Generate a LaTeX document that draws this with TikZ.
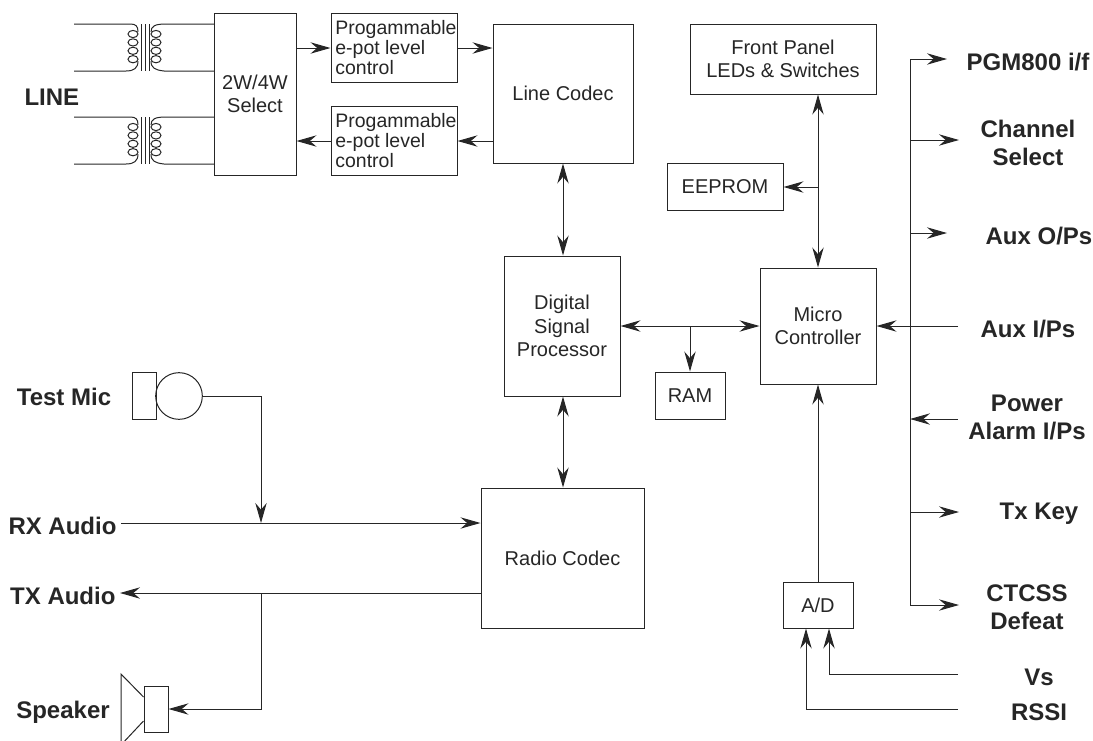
\documentclass[tikz,border=0pt]{standalone}
\usepackage{fontspec}
\setmainfont{Liberation Sans}
\usetikzlibrary{arrows.meta,calc}
\tikzset{
  x=0.75pt,y=-0.75pt,
  every path/.style={line width=0.75pt},
  box/.style={draw,rectangle,inner sep=0pt,align=center,font=\fontsize{15}{17.6}\selectfont},
  progbox/.style={box,align=left,font=\fontsize{14.6}{15}\selectfont},
  lab/.style={inner sep=0pt,align=center,font=\bfseries\fontsize{18}{21}\selectfont},
  arr/.style={-{Stealth[length=15pt,width=8.5pt,inset=5pt]}},
  darr/.style={{Stealth[length=15pt,width=8.5pt,inset=5pt]}-{Stealth[length=15pt,width=8.5pt,inset=5pt]}},
  thinln/.style={line width=0.75pt},
  pics/xfmr/.style={code={
    \foreach \yy in {10,18.4,26.8,35.2}{
      \draw[thinln] (59,\yy) ellipse [x radius=5,y radius=3.6];
      \draw[thinln] (82,\yy) ellipse [x radius=5,y radius=3.6];
    }
    \draw[thinln] (0,0) -- (56,0) .. controls (62,0) and (64,2) .. (64,8);
    \draw[thinln] (0,47) -- (52,47) .. controls (60,47) and (64,44) .. (64,37);
    \draw[thinln] (140,0) -- (92,0) .. controls (81,0) and (77,2) .. (77,8);
    \draw[thinln] (140,47) -- (90,47) .. controls (81,46) and (77,44) .. (77,37);
    \foreach \xx in {67,71,75}{\draw[thinln] (\xx,0) -- (\xx,47);}
  }},
}
\newcommand{\bx}[7][box]{\node[#1,minimum width=#5*0.75pt-#3*0.75pt,minimum height=#6*0.75pt-#4*0.75pt] (#2) at ({(#3+#5)/2},{(#4+#6)/2}) {#7};}
\newcommand{\progtext}{\hspace*{3pt}Progammable\\\hspace*{3pt}e-pot level\\\hspace*{3pt}control}
\begin{document}
\begin{tikzpicture}[color=black!85]
\useasboundingbox (0,0) rectangle (1093,740);
% boxes
\bx{sel}{214}{13}{296}{175}{2W/4W\\Select}
\bx[progbox]{pa}{331}{13}{457}{82}{\progtext}
\bx[progbox]{pb}{331}{106}{457}{175}{\progtext}
\bx{lc}{493}{24}{633}{163}{Line Codec}
\bx{dsp}{504}{256}{620}{396}{Digital\\Signal\\Processor}
\bx{fp}{690}{24}{876}{94}{Front Panel\\LEDs \& Switches}
\bx{ee}{667}{163}{783}{210}{EEPROM}
\bx{mc}{760}{268}{876}{384}{Micro\\Controller}
\bx{ram}{655}{372}{725}{419}{RAM}
\bx{rc}{481}{488}{644}{628}{Radio Codec}
\bx{ad}{783}{582}{853}{628}{A/D}
\bx{micb}{132}{372}{156}{419}{}
\bx{spk}{144}{686}{168}{732}{}
\node[draw,circle,inner sep=0pt,minimum size=35pt] (mic) at (179,396) {};
% labels
\node[lab,anchor=west] (lline) at (24,97) {LINE};
\node[lab] (ltest) at (64,397) {Test Mic};
\node[lab,anchor=east] (lrx) at (117,526) {RX Audio};
\node[lab,anchor=east] (ltx) at (116,596) {TX Audio};
\node[lab] (lspk) at (63,712) {Speaker};
\node[lab] (l1) at (1028,62) {PGM800 i/f};
\node[lab] (l2) at (1028,143) {Channel\\Select};
\node[lab] (l3) at (1039,236) {Aux O/Ps};
\node[lab] (l4) at (1028,329) {Aux I/Ps};
\node[lab] (l5) at (1027,417) {Power\\Alarm I/Ps};
\node[lab] (l6) at (1039,514) {Tx Key};
\node[lab] (l7) at (1027,607) {CTCSS\\Defeat};
\node[lab] (l8) at (1039,677) {Vs};
\node[lab] (l9) at (1039,712) {RSSI};
% transformers
\pic at (74,24) {xfmr};
\pic at (74,117) {xfmr};
% speaker cone
\draw[thinln] (spk.west |- 0,697) -- (121,674) -- (121,745) -- (spk.west |- 0,721);
% free ends and junctions
\coordinate (bt) at (910,59);
\coordinate (bb) at (910,605);
\coordinate (e1) at (947,59);
\coordinate (e2) at (959,140);
\coordinate (e3) at (947,233);
\coordinate (e4) at (958,326);
\coordinate (e5) at (958,419);
\coordinate (e6) at (959,512);
\coordinate (e7) at (959,605);
\coordinate (e8) at (958,674);
\coordinate (e9) at (958,709);
\coordinate (rx0) at (121,523);
\coordinate (tx0) at (120,593);
\coordinate (jm) at (261,523);
\coordinate (jt) at (261,593);
\coordinate (jr) at (690,326);
\coordinate (je) at (818,187);
% connectors
\draw[arr] (sel.east |- 0,48) -- (pa.west |- 0,48);
\draw[arr] (pa.east |- 0,48) -- (lc.west |- 0,48);
\draw[arr] (lc.west |- 0,141) -- (pb.east |- 0,141);
\draw[arr] (pb.west |- 0,141) -- (sel.east |- 0,141);
\draw[darr] (563,0 |- lc.south) -- (563,0 |- dsp.north);
\draw[darr] (563,0 |- dsp.south) -- (563,0 |- rc.north);
\draw[darr] (dsp.east |- jr) -- (mc.west |- jr);
\draw[arr] (jr) -- (jr |- ram.north);
\draw[darr] (je |- fp.south) -- (je |- mc.north);
\draw[arr] (je) -- (ee.east |- je);
\draw[arr] (ad.north) -- (mc.south);
\draw (bt) -- (bb);
\draw[arr] (bt) -- (e1);
\draw[arr] (bt |- e2) -- (e2);
\draw[arr] (bt |- e3) -- (e3);
\draw[arr] (e4) -- (mc.east |- e4);
\draw[arr] (e5) -- (bt |- e5);
\draw[arr] (bt |- e6) -- (e6);
\draw[arr] (bb) -- (e7);
\draw[arr] (e8) -- (829,0 |- e8) -- (829,0 |- ad.south);
\draw[arr] (e9) -- (806,0 |- e9) -- (806,0 |- ad.south);
\draw[arr] (mic.east) -- (jm |- mic.east) -- (jm);
\draw[arr] (rx0) -- (rc.west |- rx0);
\draw[arr] (rc.west |- tx0) -- (tx0);
\draw[arr] (jt) -- (jt |- 0,709) -- (spk.east |- 0,709);
\end{tikzpicture}
\end{document}
